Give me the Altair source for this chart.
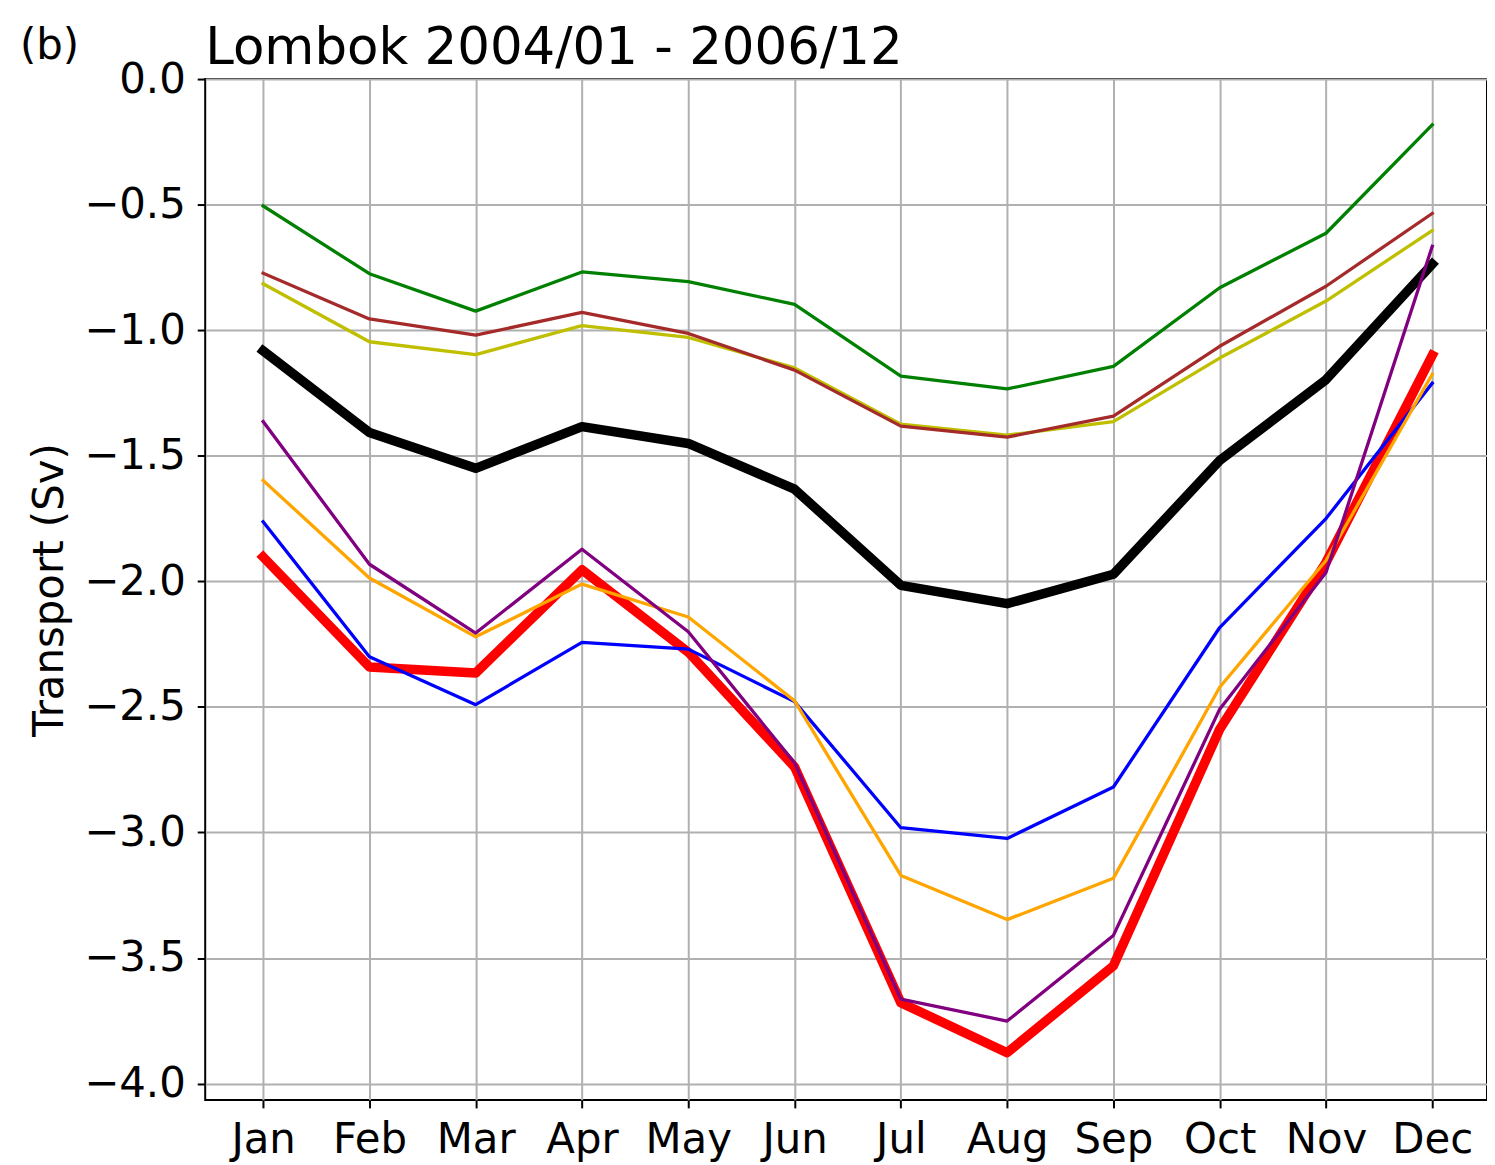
import altair as alt
import pandas as pd

months = ["Jan", "Feb", "Mar", "Apr", "May", "Jun",
          "Jul", "Aug", "Sep", "Oct", "Nov", "Dec"]

black = [-1.082, -1.407, -1.550, -1.384, -1.451, -1.633,
         -2.016, -2.089, -1.972, -1.519, -1.197, -0.737]
red = [-1.903, -2.341, -2.365, -1.954, -2.282, -2.739,
       -3.678, -3.877, -3.531, -2.589, -1.925, -1.100]
blue = [-1.763, -2.300, -2.491, -2.243, -2.270, -2.479,
        -2.981, -3.024, -2.819, -2.184, -1.750, -1.211]
orange = [-1.598, -1.987, -2.221, -2.011, -2.142, -2.476,
          -3.171, -3.347, -3.182, -2.422, -1.917, -1.175]
purple = [-1.364, -1.932, -2.206, -1.872, -2.201, -2.723,
          -3.664, -3.751, -3.410, -2.509, -1.965, -0.666]
yellow = [-0.815, -1.046, -1.097, -0.982, -1.029, -1.150,
          -1.374, -1.418, -1.364, -1.111, -0.884, -0.603]
brown = [-0.773, -0.955, -1.020, -0.929, -1.013, -1.159,
         -1.382, -1.426, -1.342, -1.064, -0.825, -0.535]
green = [-0.505, -0.775, -0.924, -0.768, -0.807, -0.897,
         -1.183, -1.234, -1.144, -0.831, -0.614, -0.182]

series = [
    ("black", black, "#000000", 9.5),
    ("red", red, "#ff0000", 9.5),
    ("blue", blue, "#0000ff", 3.3),
    ("orange", orange, "#ffa500", 3.3),
    ("purple", purple, "#800080", 3.3),
    ("yellow", yellow, "#bfbf00", 3.3),
    ("brown", brown, "#a52a2a", 3.3),
    ("green", green, "#008000", 3.3),
]

y_ticks = [0.0, -0.5, -1.0, -1.5, -2.0, -2.5, -3.0, -3.5, -4.0]
title_text = "Lombok 2004/01 - 2006/12"
panel_text = "(b)"

FONT = "DejaVu Sans"
W, H = 1287, 1025

label_expr = "[" + ",".join("'%s'" % m for m in months) + "][datum.value]"

x_enc = alt.X(
    "m:Q",
    scale=alt.Scale(domain=[-0.545, 11.515], nice=False, zero=False),
    axis=alt.Axis(
        title=None, values=list(range(12)), labelExpr=label_expr,
        labelFont=FONT, labelFontSize=42, labelPadding=12, labelAngle=0,
        grid=True, labelFlush=False, labelOverlap=False,
    ),
)
y_enc = alt.Y(
    "v:Q",
    scale=alt.Scale(domain=[-4.065, 0.0], nice=False, zero=False),
    axis=alt.Axis(
        title="Transport (Sv)", values=y_ticks,
        labelExpr="replace(format(datum.value, '.1f'), '-', '\u2212')",
        labelFont=FONT, labelFontSize=42, labelPadding=12, grid=True,
        titleFont=FONT, titleFontSize=42, titleFontWeight="normal",
        titleX=-143, titleY=H / 2, titleAngle=270, titleAlign="center",
        titleBaseline="alphabetic", labelFlush=False, labelOverlap=False,
    ),
)

layers = []
for name, vals, col, sw in series:
    df = pd.DataFrame({"m": list(range(12)), "month": months, "v": vals, "series": name})
    layers.append(
        alt.Chart(df).mark_line(
            color=col, strokeWidth=sw, strokeCap="square", strokeJoin="round"
        ).encode(x=x_enc, y=y_enc)
    )

title_df = pd.DataFrame({"t": [title_text]})
title_layer = alt.Chart(title_df).mark_text(
    font=FONT, fontSize=51.6, align="left", baseline="alphabetic", color="black"
).encode(x=alt.value(0), y=alt.value(-15), text="t:N")

panel_df = pd.DataFrame({"t": [panel_text]})
panel_layer = alt.Chart(panel_df).mark_text(
    font=FONT, fontSize=42, align="left", baseline="alphabetic", color="black"
).encode(x=alt.value(-186), y=alt.value(-20), text="t:N")

chart = alt.layer(*layers, title_layer, panel_layer).properties(
    width=W, height=H,
    padding={"left": 198, "top": 69, "right": 0, "bottom": 63},
    autosize=alt.AutoSizeParams(type="none"),
    background="white",
).configure_axis(
    labelFont=FONT, titleFont=FONT, labelColor="black", titleColor="black",
    tickColor="black", tickWidth=2, tickSize=8, tickOpacity=1, domain=False,
    gridColor="#b0b0b0", gridWidth=2, gridOpacity=1,
).configure_view(
    stroke="black", strokeWidth=2,
)

chart.save("out.html", embed_options={"renderer": "svg", "actions": False})
